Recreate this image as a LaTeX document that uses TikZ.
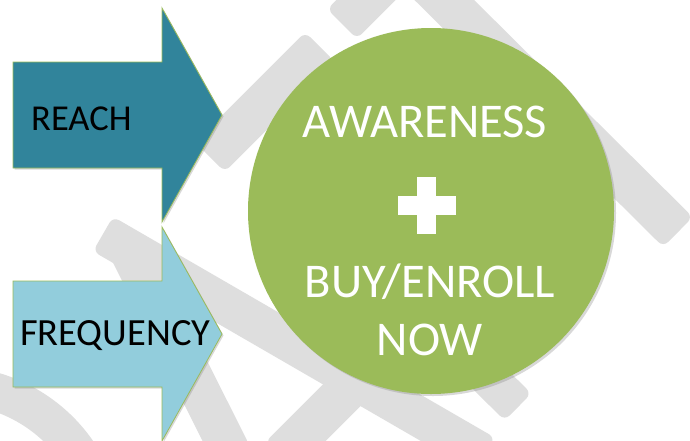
\documentclass[tikz,border=0pt]{standalone}
\usepackage{fontspec}
\setmainfont{Carlito}
\usepackage{xcolor}
\usepackage{tikz}
\usetikzlibrary{calc,shadows}
\definecolor{Reach-Teal}{RGB}{ 49, 132, 155}
\definecolor{Freq-Blue}{RGB}{146, 205, 220}
\definecolor{Goal-Green}{RGB}{155, 187,  89}
\definecolor{Mark-Gray}{RGB}{222, 222, 222}
\tikzstyle{wm}=[fill=Mark-Gray,rounded corners=7pt]
\tikzstyle{big arrow}=[draw=Goal-Green,line width=0.8pt,drop shadow={opacity=0.3,shadow xshift=1.5pt,shadow yshift=-1.5pt}]
\tikzstyle{arrow text}=[anchor=base west,inner sep=0pt,text=black]
\tikzstyle{goal}=[circle,fill=Goal-Green,minimum size=366pt,inner sep=0pt,drop shadow={opacity=0.3,shadow xshift=2pt,shadow yshift=-2pt}]
\tikzstyle{goal text}=[anchor=base,inner sep=0pt,text=white,font=\fontsize{48.5}{52}\selectfont]
% one grey stroke of the watermark, #1 = half width
\newcommand{\wmband}[3]{\fill[wm] ($(#2)!#1!90:(#3)$) -- ($(#3)!#1!-90:(#2)$) -- ($(#3)!#1!90:(#2)$) -- ($(#2)!#1!-90:(#3)$) -- cycle;}
% arrow with its shaft centred on y = #1
\newcommand{\bigarrow}[2]{\filldraw[big arrow,fill=#2] (13,#1-53) -- (162,#1-53) -- (162,#1-107) -- (222,#1) -- (162,#1+107) -- (162,#1+53) -- (13,#1+53) -- cycle;}

\begin{document}
\begin{tikzpicture}[x=1pt,y=-1pt]

    \useasboundingbox (0,0) rectangle (690,440);
    \fill[white] (0,0) rectangle (690,440);
    \clip (0,0) rectangle (690,440);

    % watermark
    \wmband{21pt}{342,24}{405,-39}
    \wmband{21pt}{405,-39}{678,232}
    \wmband{21pt}{320,47}{210,157}
    \wmband{20pt}{103,234}{485,455}
    \wmband{19pt}{400,290}{518,407}
    \wmband{21pt}{357,380}{280,457}
    \wmband{20pt}{128,248}{232,455}
    \draw[Mark-Gray,line width=38pt] (-50,540) circle[radius=155];

    \bigarrow{115}{Reach-Teal}
    \bigarrow{334}{Freq-Blue}

    \node[goal] (goal) at (431,211) {};

    \node[arrow text,font=\fontsize{36.5}{40}\selectfont] (reach)     at (31,130) {REACH};
    \node[arrow text,font=\fontsize{38.5}{42}\selectfont] (frequency) at (20,345) {FREQUENCY};

    \node[goal text] (awareness) at (425,137) {AWARENESS};
    \fill[white] (417,177) rectangle (436,234);
    \fill[white] (398,196) rectangle (456,215);
    \node[goal text] (buy)       at (430,297) {BUY/ENROLL};
    \node[goal text] (now)       at (430,355) {NOW};

  \end{tikzpicture}
\end{document}
